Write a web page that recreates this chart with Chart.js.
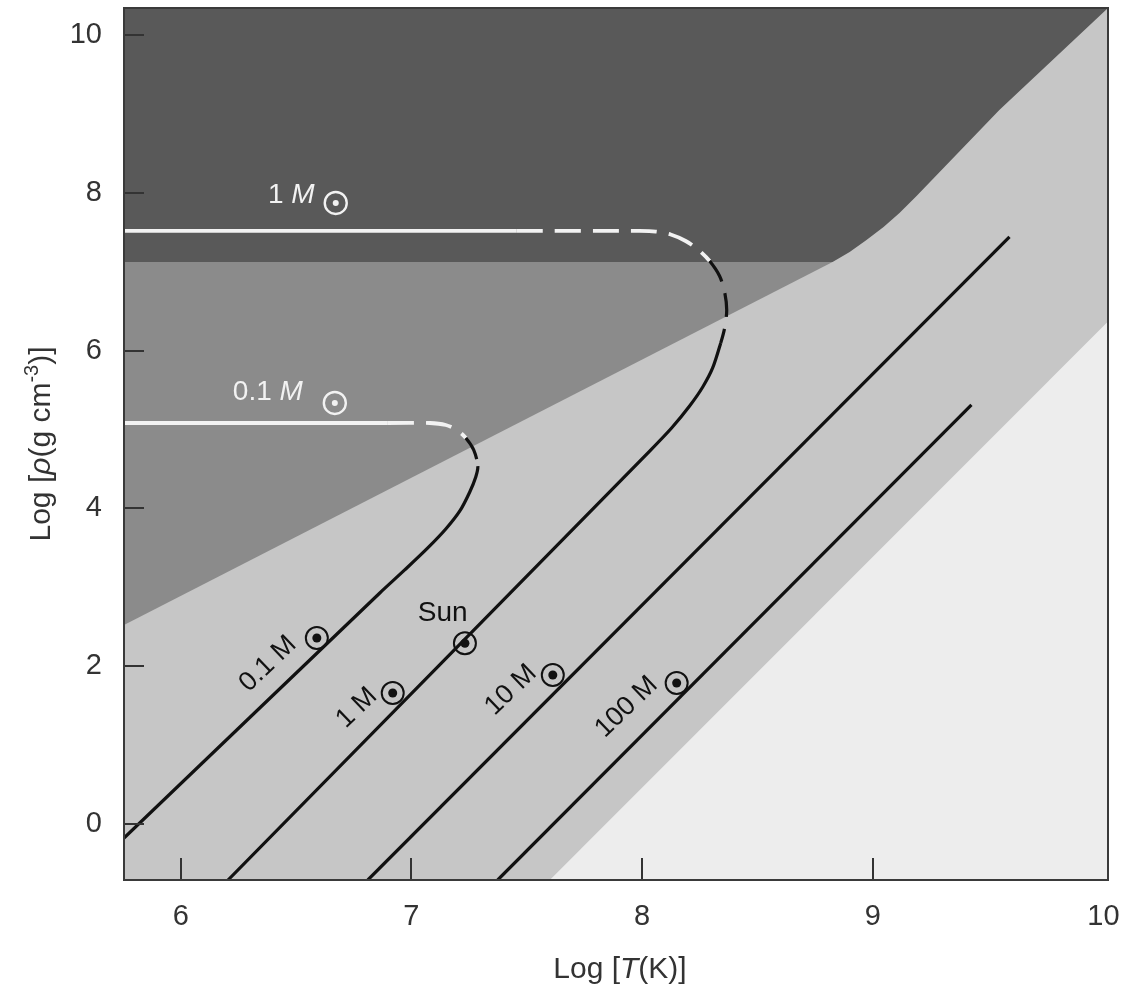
<!DOCTYPE html>
<html><head><meta charset="utf-8">
<script src="https://cdn.jsdelivr.net/npm/chart.js@4.4.1/dist/chart.umd.min.js"></script>
<style>html,body{margin:0;padding:0;background:#fff;}canvas{display:block;}</style>
</head><body>
<canvas id="c" width="1132" height="991"></canvas>
<script>
// ---------- data (log T [K], log rho [g cm^-3]) ----------
const X_MIN = 5.754, X_MAX = 10.02, Y_MIN = -0.712, Y_MAX = 10.344;
const xTicks = [6, 7, 8, 9, 10];
const yTicks = [0, 2, 4, 6, 8, 10];

// region boundaries (filled upward to the top of the plot)
const lightRegionLower  = [[5.754,-0.712],[7.600,-0.712],[10.02,6.37]];
const mediumRegionLower = [[5.754,2.521],[8.826,7.124]];
const darkRegionLower   = [[5.754,7.124],[8.826,7.124],[8.900,7.251],[8.973,7.403],[9.047,7.567],[9.116,7.745],
                           [9.190,7.961],[9.549,9.051],[10.02,10.344]];

// evolutionary tracks of stellar centres
const track01M = [[5.754,5.082],[6.898,5.082],[7.080,5.082],[7.149,5.057],[7.197,4.994],[7.236,4.892],[7.270,4.740],
                  [7.288,4.537],[7.279,4.398],[7.253,4.208],[7.210,3.967],[7.149,3.738],[7.071,3.498],[6.971,3.219],
                  [6.863,2.927],[5.754,-0.180]];
const track1M   = [[5.754,7.517],[7.457,7.517],[7.990,7.517],[8.059,7.509],[8.124,7.472],[8.189,7.390],[8.245,7.276],
                  [8.293,7.136],[8.336,6.946],[8.358,6.743],[8.367,6.515],[8.358,6.287],[8.341,6.097],[8.306,5.780],
                  [8.263,5.539],[8.206,5.298],[8.128,5.019],[8.033,4.727],[6.205,-0.712]];
const track10M  = [[6.811,-0.712],[9.593,7.441]];
const track100M = [[7.374,-0.712],[9.428,5.311]];
const sunPoint  = [7.232, 2.29];

const FONT = '"Liberation Sans", Arial, Helvetica, sans-serif';
const pts = a => a.map(([x,y]) => ({x, y}));

function regionDS(arr, color, order){
  return {data: pts(arr), fill: 'end', backgroundColor: color, borderColor: 'transparent',
          borderWidth: 0, pointRadius: 0, tension: 0, order};
}
// style breaks: [start of white dashed, start of black dashed, start of black solid]
function trackDS(arr, breaks, order){
  const [b1,b2,b3] = breaks;
  return {data: pts(arr), fill: false, pointRadius: 0, tension: 0.3, borderWidth: 3.2, order,
    borderColor: '#111', borderCapStyle: 'butt',
    segment: {
      borderColor: c => (c.p0DataIndex < b2 ? '#f2f2f2' : '#111'),
      borderDash: c => {
        const i = c.p0DataIndex;
        if (i >= b1 && i < b2) return [26, 12];
        if (i >= b2 && i < b3) return [24, 12];
        return [];
      },
      borderWidth: c => (c.p0DataIndex < b2 ? 3.8 : 3.2)
    }};
}
function lineDS(arr, order){
  return {data: pts(arr), fill: false, pointRadius: 0, tension: 0, borderWidth: 3.2, borderColor: '#111', order};
}

function sunSym(ctx, px, py, r, color, dotR, lw){
  ctx.save(); ctx.strokeStyle = color; ctx.fillStyle = color; ctx.lineWidth = lw;
  ctx.beginPath(); ctx.arc(px, py, r, 0, Math.PI*2); ctx.stroke();
  ctx.beginPath(); ctx.arc(px, py, dotR, 0, Math.PI*2); ctx.fill(); ctx.restore();
}
function richText(ctx, parts, x, y, align){
  let w = 0;
  parts.forEach(p => { ctx.font = p.font; p.w = ctx.measureText(p.t).width; w += p.w; });
  let cx = align === 'center' ? x - w/2 : x;
  ctx.textAlign = 'left';
  parts.forEach(p => { ctx.font = p.font; ctx.fillText(p.t, cx, y + (p.dy || 0)); cx += p.w; });
}

const bgPlugin = {
  id: 'bg',
  beforeDatasetsDraw(chart){
    const {ctx, chartArea: a} = chart;
    ctx.save(); ctx.fillStyle = '#ededed'; ctx.fillRect(a.left, a.top, a.right - a.left, a.bottom - a.top); ctx.restore();
  }
};

const decoPlugin = {
  id: 'deco',
  afterDatasetsDraw(chart){
    const {ctx, chartArea: a, scales: {x: sx, y: sy}} = chart;
    const P = (x, y) => [sx.getPixelForValue(x), sy.getPixelForValue(y)];
    ctx.save();
    // inward ticks
    ctx.strokeStyle = '#333'; ctx.lineWidth = 2;
    xTicks.forEach(v => { if (v >= X_MAX - 0.05) return; const px = Math.round(sx.getPixelForValue(v));
      ctx.beginPath(); ctx.moveTo(px, a.bottom); ctx.lineTo(px, a.bottom - 22); ctx.stroke(); });
    yTicks.forEach(v => { const py = Math.round(sy.getPixelForValue(v));
      ctx.beginPath(); ctx.moveTo(a.left, py); ctx.lineTo(a.left + 20, py); ctx.stroke(); });
    // frame
    ctx.strokeStyle = '#3a3a3a'; ctx.lineWidth = 2;
    ctx.strokeRect(a.left, a.top, a.right - a.left, a.bottom - a.top);

    // white labels on the horizontal track parts
    ctx.fillStyle = '#f2f2f2'; ctx.textBaseline = 'alphabetic';
    let p = P(6.378, 7.872);
    richText(ctx, [{t: '1 ', font: '28px ' + FONT}, {t: 'M', font: 'italic 28px ' + FONT}], p[0], p[1], 'left');
    p = P(6.672, 7.872); sunSym(ctx, p[0], p[1], 11, '#f2f2f2', 3, 2.4);
    p = P(6.226, 5.374);
    richText(ctx, [{t: '0.1 ', font: '28px ' + FONT}, {t: 'M', font: 'italic 28px ' + FONT}], p[0], p[1], 'left');
    p = P(6.668, 5.336); sunSym(ctx, p[0], p[1], 11, '#f2f2f2', 3, 2.4);

    // rotated labels along the tracks
    ctx.fillStyle = '#111'; ctx.textAlign = 'center'; ctx.textBaseline = 'middle';
    const rot = [['0.1 M', 6.378, 2.027], ['1 M', 6.763, 1.469], ['10 M', 7.431, 1.697], ['100 M', 7.933, 1.481]];
    rot.forEach(([t, x, y]) => { const q = P(x, y); ctx.save(); ctx.translate(q[0], q[1]); ctx.rotate(-44 * Math.PI / 180);
      ctx.font = '27px ' + FONT; ctx.fillText(t, 0, 0); ctx.restore(); });
    [[6.590, 2.356], [6.919, 1.659], [7.613, 1.887], [8.150, 1.786]].forEach(([x, y]) => {
      const q = P(x, y); sunSym(ctx, q[0], q[1], 11, '#111', 4.5, 2); });
    // Sun
    p = P(sunPoint[0], sunPoint[1]); sunSym(ctx, p[0], p[1], 11, '#111', 4.5, 2);
    p = P(7.136, 2.673); ctx.font = '28px ' + FONT; ctx.fillText('Sun', p[0], p[1]);

    // axis titles
    ctx.fillStyle = '#333'; ctx.textBaseline = 'alphabetic';
    richText(ctx, [{t: 'Log [', font: '30px ' + FONT}, {t: 'T', font: 'italic 30px ' + FONT}, {t: '(K)]', font: '30px ' + FONT}],
      (a.left + a.right) / 2 + 4, a.bottom + 98, 'center');
    ctx.save(); ctx.translate(50, (a.top + a.bottom) / 2); ctx.rotate(-Math.PI / 2);
    richText(ctx, [{t: 'Log [', font: '30px ' + FONT}, {t: 'ρ', font: 'italic 30px ' + FONT}, {t: '(g cm', font: '30px ' + FONT},
      {t: '-3', font: '20px ' + FONT, dy: -12}, {t: ')]', font: '30px ' + FONT}], 0, 0, 'center');
    ctx.restore();
    ctx.restore();
  }
};

new Chart(document.getElementById('c'), {
  type: 'line',
  data: { datasets: [
    trackDS(track01M, [1, 5, 7], 1),
    trackDS(track1M, [1, 7, 12], 1),
    lineDS(track10M, 1),
    lineDS(track100M, 1),
    regionDS(darkRegionLower, '#595959', 5),
    regionDS(mediumRegionLower, '#8b8b8b', 6),
    regionDS(lightRegionLower, '#c6c6c6', 7)
  ]},
  options: {
    responsive: false, animation: false, devicePixelRatio: 1,
    layout: { padding: { top: 8, right: 24, left: 0, bottom: 0 } },
    plugins: { legend: { display: false }, tooltip: { enabled: false } },
    scales: {
      x: { type: 'linear', min: X_MIN, max: X_MAX, grid: { display: false }, border: { display: false },
        ticks: { font: { family: FONT, size: 29 }, color: '#333', padding: 12, maxRotation: 0, autoSkip: false },
        afterBuildTicks: s => { s.ticks = xTicks.map(v => ({value: v})); },
        afterFit: s => { s.height = 111; s.paddingLeft = 0; s.paddingRight = 0; } },
      y: { type: 'linear', min: Y_MIN, max: Y_MAX, grid: { display: false }, border: { display: false },
        ticks: { font: { family: FONT, size: 29 }, color: '#333', padding: 14, autoSkip: false },
        afterBuildTicks: s => { s.ticks = yTicks.map(v => ({value: v})); },
        afterFit: s => { s.width = 124; s.paddingTop = 0; s.paddingBottom = 0; } }
    }
  },
  plugins: [bgPlugin, decoPlugin]
});
</script>
</body></html>
